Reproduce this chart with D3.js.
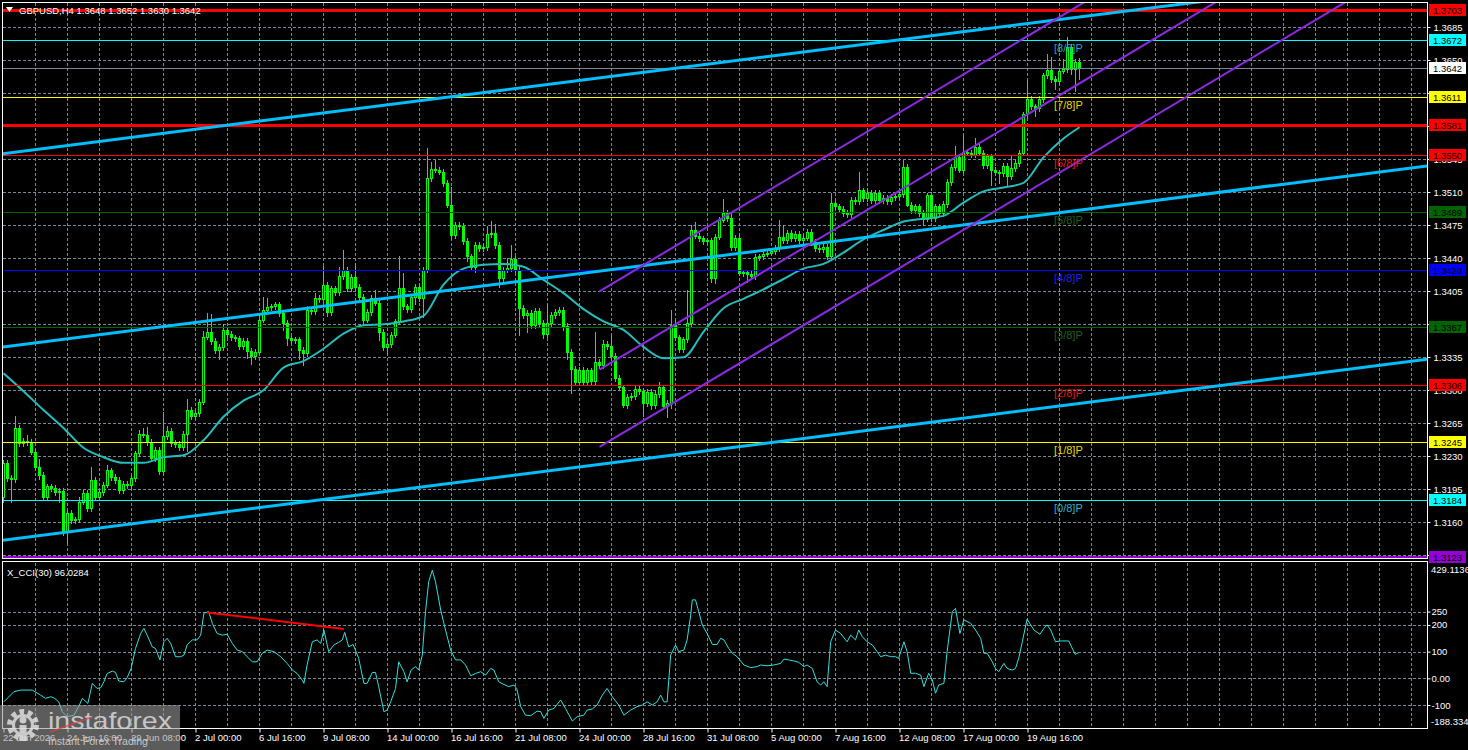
<!DOCTYPE html>
<html>
<head>
<meta charset="utf-8">
<script src="https://cdn.jsdelivr.net/npm/d3@7"></script>
<style>
html, body { margin: 0; padding: 0; background: #000; overflow: hidden; }
svg { display: block; }
text { font-family: "Liberation Sans", Arial, sans-serif; }
</style>
</head>
<body>
<div id="chart"></div>
<script>
// GBPUSD H4 closes, one per bar (bar 0 = 22 Jun 00:00)
const closes = [
  1.3223, 1.3207, 1.3206, 1.3260, 1.3244, 1.3246, 1.3245, 1.3235, 1.3219, 1.3210,
  1.3187, 1.3198, 1.3196, 1.3192, 1.3193, 1.3150, 1.3170, 1.3162, 1.3163, 1.3182,
  1.3191, 1.3175, 1.3205, 1.3187, 1.3192, 1.3200, 1.3215, 1.3208, 1.3205, 1.3194,
  1.3201, 1.3199, 1.3207, 1.3233, 1.3254, 1.3253, 1.3245, 1.3228, 1.3237, 1.3214,
  1.3251, 1.3257, 1.3244, 1.3243, 1.3240, 1.3254, 1.3279, 1.3273, 1.3276, 1.3288,
  1.3357, 1.3362, 1.3352, 1.3343, 1.3346, 1.3364, 1.3360, 1.3356, 1.3355, 1.3347,
  1.3352, 1.3342, 1.3336, 1.3341, 1.3375, 1.3385, 1.3388, 1.3389, 1.3391, 1.3382,
  1.3371, 1.3355, 1.3353, 1.3354, 1.3343, 1.3339, 1.3385, 1.3384, 1.3398, 1.3397,
  1.3412, 1.3383, 1.3408, 1.3404, 1.3421, 1.3428, 1.3408, 1.3420, 1.3410, 1.3399,
  1.3375, 1.3383, 1.3398, 1.3393, 1.3362, 1.3346, 1.3349, 1.3359, 1.3373, 1.3408,
  1.3389, 1.3386, 1.3399, 1.3410, 1.3398, 1.3428, 1.3525, 1.3535, 1.3534, 1.3532,
  1.3520, 1.3497, 1.3465, 1.3475, 1.3474, 1.3458, 1.3442, 1.3431, 1.3454, 1.3451,
  1.3452, 1.3466, 1.3467, 1.3454, 1.3419, 1.3428, 1.3430, 1.3439, 1.3428, 1.3387,
  1.3380, 1.3382, 1.3369, 1.3384, 1.3371, 1.3360, 1.3371, 1.3380, 1.3383, 1.3385,
  1.3368, 1.3341, 1.3323, 1.3309, 1.3322, 1.3309, 1.3321, 1.3310, 1.3330, 1.3327,
  1.3349, 1.3347, 1.3336, 1.3313, 1.3303, 1.3284, 1.3293, 1.3294, 1.3301, 1.3299,
  1.3286, 1.3298, 1.3284, 1.3296, 1.3303, 1.3283, 1.3287, 1.3369, 1.3356, 1.3344,
  1.3354, 1.3371, 1.3470, 1.3464, 1.3461, 1.3458, 1.3459, 1.3419, 1.3463, 1.3481,
  1.3488, 1.3483, 1.3452, 1.3462, 1.3424, 1.3425, 1.3423, 1.3421, 1.3441, 1.3442,
  1.3445, 1.3446, 1.3448, 1.3451, 1.3463, 1.3459, 1.3467, 1.3461, 1.3466, 1.3459,
  1.3462, 1.3468, 1.3457, 1.3451, 1.3450, 1.3452, 1.3442, 1.3499, 1.3495, 1.3492,
  1.3488, 1.3487, 1.3502, 1.3501, 1.3512, 1.3504, 1.3509, 1.3502, 1.3509, 1.3502,
  1.3504, 1.3501, 1.3505, 1.3506, 1.3508, 1.3537, 1.3497, 1.3491, 1.3495, 1.3488,
  1.3482, 1.3507, 1.3483, 1.3495, 1.3488, 1.3498, 1.3521, 1.3537, 1.3547, 1.3534,
  1.3553, 1.3552, 1.3550, 1.3558, 1.3552, 1.3539, 1.3548, 1.3534, 1.3531, 1.3530,
  1.3538, 1.3527, 1.3536, 1.3541, 1.3552, 1.3593, 1.3609, 1.3601, 1.3599, 1.3609,
  1.3634, 1.3640, 1.3630, 1.3628, 1.3639, 1.3641, 1.3664, 1.3641, 1.3648, 1.3642
]
const firstOpen = 1.3187
// wick lengths in pips above the body and below it
const wickUp = [
  3,3,3,13,3,3,7,3,3,8,   3,3,3,3,3,3,3,3,3,5,   3,3,14,3,3,3,6,3,3,3,
  3,3,3,3,4,6,8,3,3,3,    26,5,3,3,3,3,12,3,3,3, 6,20,19,3,3,6,3,3,3,3,
  3,3,3,3,5,14,10,3,3,3,  3,3,3,3,3,3,4,3,5,3,   20,3,3,3,10,21,3,3,15,3,
  3,3,3,8,3,3,3,3,3,34,   16,3,3,3,3,3,32,7,9,3, 3,3,19,3,3,3,3,3,3,3,
  3,8,12,9,3,3,10,15,3,3, 3,3,3,3,3,3,20,3,3,3,  3,3,3,3,3,3,3,3,32,3,
  4,3,12,3,3,3,3,3,3,3,   3,3,3,3,6,3,3,16,5,3,  3,35,5,8,3,3,3,3,3,3,
  15,3,5,3,3,3,3,3,3,3,   3,3,3,3,18,12,3,3,3,3, 3,3,3,3,3,3,3,10,3,3,
  3,3,3,3,19,3,6,3,3,3,   3,3,3,3,3,7,3,3,3,3,   3,2,3,3,3,3,3,3,12,3,
  18,3,3,10,3,3,3,3,3,3,  3,3,12,3,3,2,20,3,3,3, 3,17,13,3,3,10,11,3,3,4
]
const wickDown = [
  5,3,25,3,3,3,3,3,3,4,   3,3,3,3,10,3,12,3,3,3, 3,3,3,3,3,3,3,3,3,3,
  3,3,3,3,3,3,3,3,3,3,    3,3,3,3,3,3,18,3,3,3,  3,3,3,3,10,3,3,3,3,3,
  3,8,8,3,3,3,3,3,3,3,    7,7,3,3,10,12,3,3,3,3, 3,4,3,3,3,3,3,3,3,3,
  4,3,3,3,9,3,8,3,3,3,    3,3,3,8,3,20,3,3,3,3,  3,3,5,3,3,3,5,3,6,3,
  3,3,3,3,10,3,3,3,3,28,  3,18,3,3,3,5,3,3,3,3,  4,8,26,3,3,3,3,3,3,3,
  3,3,3,3,3,2,3,3,3,3,    13,3,4,3,3,3,11,6,3,3, 3,3,3,3,3,3,3,4,5,3,
  3,3,3,3,2,3,8,3,3,3,    3,3,3,3,3,3,3,3,3,3,   3,3,3,3,3,3,3,3,3,3,
  3,3,3,3,3,3,3,3,3,3,    3,3,3,3,3,3,2,3,3,3,   7,3,3,3,3,3,4,3,3,3,
  3,3,3,3,3,3,3,16,3,10,  3,9,3,3,3,3,3,3,8,3,   3,3,3,8,3,3,3,6,24,12
]

// moving average read every five bars
const maBars = [0,5,10,15,20,25,30,35,40,45,50,55,60,65,70,75,80,85,90,95,100,105,110,115,120,125,130,
  135,140,145,150,155,160,165,170,175,180,185,190,195,200,205,210,215,220,225,230,235,240,245,250,255,260,265,269]
const maValues = [1.3318,1.3299,1.3279,1.3260,1.3239,1.3229,1.3223,1.3223,1.3229,1.3231,1.3247,1.3272,1.3289,
  1.3300,1.3324,1.3331,1.3344,1.3360,1.3369,1.3370,1.3373,1.3379,1.3412,1.3429,1.3433,1.3434,1.3431,1.3417,
  1.3403,1.3386,1.3373,1.3364,1.3346,1.3334,1.3335,1.3362,1.3387,1.3397,1.3407,1.3418,1.3429,1.3434,1.3446,
  1.3460,1.3470,1.3479,1.3482,1.3485,1.3499,1.3511,1.3515,1.3520,1.3547,1.3567,1.3579]

// X_CCI(30)
const cciBars = [0.1,2.6,4.3,7.2,9.3,10.5,11.8,12.6,13.8,14.7,15.9,17.6,18.8,19.7,21.1,22.2,23.4,24.3,25.1,25.9,
  27.2,28,28.8,30.1,30.9,31.9,33,34.3,35.1,35.9,37.2,38,39.1,40.1,40.9,41.8,43,44.3,45.1,45.9,47.2,48.4,49.3,
  50.1,51.3,52.2,53.4,54.7,55.9,57.2,58.4,59.7,60.9,62.2,63.4,64.7,65.9,67.6,69.3,70.9,72.2,73.4,74.7,75.1,
  75.9,77.2,78.4,79.3,80.1,81.3,82.6,83.8,84.7,85.3,86.3,87.4,88.8,90.1,90.9,92.2,93,93.8,95.1,95.9,96.8,98,
  98.8,100.1,100.9,101.9,103,103.8,104.7,105.5,106.3,107.2,108,109.3,110.5,111.8,113,114.3,115.5,116.8,118,
  119.3,120.5,121.8,122.6,123.8,125.1,126.3,127.6,128.3,129.3,130.5,131.8,133.4,134.3,135.1,136.3,137.6,139.3,
  140.5,142.2,143.4,145.1,145.9,147.2,148.4,149.7,150.9,152.2,153.8,155.1,156.8,158.4,159.7,160.9,162.2,163.4,
  164.3,165.1,165.9,166.8,168,168.8,170.1,170.9,171.8,172.2,173,173.8,174.7,175.9,177.2,178.4,179.3,180.1,
  181.3,182.2,183.4,185.1,186.8,188.4,189.3,190.9,192.6,194.3,195.1,196.3,197.6,198.8,200.1,200.9,202.2,203.4,
  204.3,205.1,205.9,206.8,208,209.3,210.9,211.8,213,213.8,214.7,215.9,217.2,218.4,219.3,220.5,221.8,223,223.8,
  225.1,225.9,226.8,228,229.3,230.1,231.3,232.2,233,233.8,235.1,235.9,237.2,238,239.1,240.1,241.8,243,244.3,
  245.1,245.9,247.2,248,248.8,250.1,250.9,252.2,253,253.8,254.7,255.9,256.8,257.6,259.1,260.1,260.9,261.8,
  263,264.3,266.3,267.9,268.8]
const cciValues = [-88,-50,-44,-44,-63,-75,-69,-73,-88,-125,-144,-138,-106,-75,-94,-19,-38,-35,-13,18,
  27,22,-10,-13,2,37,112,168,187,162,118,112,69,137,150,131,81,81,87,125,144,144,162,
  244,250,206,168,162,165,131,106,100,81,62,62,94,106,100,81,56,31,18,-7,-19,
  50,137,144,131,181,100,125,135,144,172,118,127,75,-19,-19,22,22,-31,-125,-119,-88,-38,
  62,25,-13,31,44,31,87,250,362,405,362,256,181,106,69,69,50,10,18,
  25,12,37,31,-13,-23,-31,-25,-38,-106,-138,-140,-123,-125,-150,-119,-113,-81,
  -113,-160,-144,-138,-119,-115,-100,-63,-38,-69,-100,-138,-119,-106,-100,-88,-100,-88,
  -63,-88,-88,87,125,100,106,144,237,294,294,250,200,168,127,127,150,144,
  112,94,81,50,40,44,50,47,50,56,72,69,65,60,44,50,37,-13,
  -25,-13,-31,137,181,168,137,162,144,181,156,137,125,100,81,87,81,81,75,
  137,100,19,19,12,-31,19,-6,-56,-25,-19,100,250,262,168,219,206,181,150,
  94,94,62,37,25,56,37,31,37,75,137,222,200,181,165,187,200,181,
  137,140,140,90,96]
const cciRange = [-188.334, 429.1136]
const cciTicks = [250, 200, 100, 0, -100]
const cciTickLabels = ["250", "200", "100", "0.00", "-100"]
const cciEdgeLabels = ["429.1136", "-188.334"]
const cciTrend = [50.9, 247, 85.1, 185]

const timeBars = [0,16,32,48,64,80,96,112,128,144,160,176,192,208,224,240,256]
const timeLabels = ["22 Jun 2026","24 Jun 16:00","29 Jun 08:00","2 Jul 00:00","6 Jul 16:00","9 Jul 08:00",
  "14 Jul 00:00","16 Jul 16:00","21 Jul 08:00","24 Jul 00:00","28 Jul 16:00","31 Jul 08:00","5 Aug 00:00",
  "7 Aug 16:00","12 Aug 08:00","17 Aug 00:00","19 Aug 16:00"]

const priceTicks = [1.3685,1.3650,1.3615,1.3580,1.3545,1.3510,1.3475,1.3440,1.3405,1.3370,1.3335,1.3300,
  1.3265,1.3230,1.3195,1.3160,1.3125]
const levelPrices = [1.3703,1.3672,1.3642,1.3611,1.3581,1.3550,1.3489,1.3428,1.3367,1.3306,1.3245,1.3184,1.3123]
const murreyPrices = [1.3672,1.3611,1.3550,1.3489,1.3428,1.3367,1.3306,1.3245,1.3184]
const murreyNames = ["[8/8]P","[7/8]P","[6/8]P","[5/8]P","[4/8]P","[3/8]P","[2/8]P","[1/8]P","[0/8]P"]

// trend lines as [bar, price, bar, price]
const blueTrends = [[0,1.3551,260,1.3691],[0,1.3346,356,1.3538],[0,1.3141,356,1.3333]]
const purpleChannel = [[149,1.3405,270,1.3711],[149,1.3322,270,1.3628],[149,1.3240,270,1.3546]]

const symbol = "GBPUSD,H4"
const lastOHLC = [1.3648, 1.3652, 1.3630, 1.3642]
const cciName = "X_CCI(30)"
const cciLast = 96.0284

// ---- styles (not data) ----
const levelStyles = [
  {c:"#ff0000", w:3, box:"#ff0000"}, {c:"#00ffff", w:1, box:"#00ffff"}, {c:"#778899", w:1, box:"#ffffff"},
  {c:"#ffff00", w:1, box:"#ffff00"}, {c:"#ff0000", w:3, box:"#ff0000"}, {c:"#ff0000", w:1, box:"#ff0000"},
  {c:"#006400", w:1, box:"#006400"}, {c:"#0000ff", w:1, box:"#0000ff"}, {c:"#006400", w:1, box:"#006400"},
  {c:"#ff0000", w:1, box:"#ff0000"}, {c:"#ffff00", w:1, box:"#ffff00"}, {c:"#00ffff", w:1, box:"#00ffff"},
  {c:"#9400d3", w:2, box:"#9400d3"}
]
const murreyColors = ["#2b9fd0","#e6d800","#e01818","#1f5f1f","#2020f0","#1f5f1f","#e01818","#e6d800","#2bb0d0"]
const gridColor = "#778899"
const up = "#00ff00"

const W = 1468, H = 750
const left = 2, right = 1427
const mainTop = 2, mainBottom = 558
const cciTop = 562, cciBottom = 729

let svg = d3.select("#chart").append("svg")
  .attr("width", W).attr("height", H)
  .style("background", "#000")

// 4 px per bar
let x = d3.scaleLinear().domain([0, 100]).range([3.5, 403.5])
let y = d3.scaleLinear().domain([1.31221, 1.37118]).range([mainBottom, mainTop])
let yc = d3.scaleLinear().domain(cciRange).range([728.6, 563.8])
const crisp = v => Math.round(v) + 0.5

let defs = svg.append("defs")
defs.append("clipPath").attr("id", "clipMain").append("rect")
  .attr("x", left + 1).attr("y", mainTop + 1).attr("width", right - left - 1).attr("height", mainBottom - mainTop - 1)
defs.append("clipPath").attr("id", "clipCci").append("rect")
  .attr("x", left + 1).attr("y", cciTop + 1).attr("width", right - left - 1).attr("height", cciBottom - cciTop - 1)

// grid
let grid = svg.append("g").attr("stroke", gridColor).attr("stroke-dasharray", "3,2").attr("stroke-width", 1)
let vBars = d3.range(8, 360, 8).filter(b => x(b) < right - 1)
vBars.forEach(b => {
  grid.append("line").attr("x1", x(b)).attr("x2", x(b)).attr("y1", mainTop + 1).attr("y2", mainBottom)
  grid.append("line").attr("x1", x(b)).attr("x2", x(b)).attr("y1", cciTop + 1).attr("y2", cciBottom)
})
priceTicks.forEach(p => {
  grid.append("line").attr("x1", left + 1).attr("x2", right).attr("y1", crisp(y(p))).attr("y2", crisp(y(p)))
})
cciTicks.forEach(v => {
  grid.append("line").attr("x1", left + 1).attr("x2", right).attr("y1", crisp(yc(v))).attr("y2", crisp(yc(v)))
})

// candles
let candles = closes.map((c, i) => {
  const o = i === 0 ? firstOpen : closes[i - 1]
  return {i, o, c, h: Math.max(o, c) + wickUp[i] / 1e4, l: Math.min(o, c) - wickDown[i] / 1e4}
})
let main = svg.append("g").attr("clip-path", "url(#clipMain)")
let cg = main.append("g")
cg.selectAll("line.wick").data(candles).join("line")
  .attr("class", "wick")
  .attr("x1", d => x(d.i)).attr("x2", d => x(d.i))
  .attr("y1", d => Math.round(y(d.h))).attr("y2", d => Math.round(y(d.l)) + 1)
  .attr("stroke", up).attr("stroke-width", 1)
candles.forEach(d => {
  const top = crisp(y(Math.max(d.o, d.c))), bot = crisp(y(Math.min(d.o, d.c)))
  if (bot - top < 1) {
    cg.append("line").attr("x1", x(d.i) - 1.5).attr("x2", x(d.i) + 1.5)
      .attr("y1", top).attr("y2", top).attr("stroke", up)
  } else {
    cg.append("rect").attr("x", x(d.i) - 1).attr("y", top).attr("width", 2).attr("height", bot - top)
      .attr("fill", d.c >= d.o ? "#000" : up).attr("stroke", up).attr("stroke-width", 1)
  }
})

// moving average
let maLine = d3.line().x((d, i) => x(maBars[i])).y(d => y(d)).curve(d3.curveMonotoneX)
main.append("path").datum(maValues).attr("d", maLine)
  .attr("fill", "none").attr("stroke", "#26bcbc").attr("stroke-width", 2)

// horizontal levels
levelPrices.forEach((p, k) => {
  const s = levelStyles[k]
  const yy = s.w % 2 ? crisp(y(p)) : Math.round(y(p))
  main.append("line").attr("x1", left).attr("x2", right).attr("y1", yy).attr("y2", yy)
    .attr("stroke", s.c).attr("stroke-width", s.w)
})

// trend lines, extended to the pane edges
const extend = (t, b0, b1) => {
  const slope = (t[3] - t[1]) / (t[2] - t[0])
  return [[x(b0), y(t[1] + slope * (b0 - t[0]))], [x(b1), y(t[1] + slope * (b1 - t[0]))]]
}
blueTrends.forEach(t => {
  main.append("path").attr("d", d3.line()(extend(t, -2, 360)))
    .attr("stroke", "#00bfff").attr("stroke-width", 3).attr("fill", "none")
})
purpleChannel.forEach(t => {
  main.append("path").attr("d", d3.line()(extend(t, t[0], 360)))
    .attr("stroke", "#8a2be2").attr("stroke-width", 2).attr("fill", "none")
})

// Murrey labels
murreyPrices.forEach((p, k) => {
  svg.append("text").attr("x", 1054).attr("y", y(p) + 12)
    .attr("fill", murreyColors[k]).style("font-size", "11px").text(murreyNames[k])
})

// CCI pane
let cci = svg.append("g").attr("clip-path", "url(#clipCci)")
let cciLine = d3.line().x((d, i) => x(cciBars[i])).y(d => yc(d))
cci.append("path").datum(cciValues).attr("d", cciLine)
  .attr("fill", "none").attr("stroke", "#33e0e0").attr("stroke-width", 1)
cci.append("line")
  .attr("x1", x(cciTrend[0])).attr("y1", yc(cciTrend[1]))
  .attr("x2", x(cciTrend[2])).attr("y2", yc(cciTrend[3]))
  .attr("stroke", "#ff0000").attr("stroke-width", 2)

// pane borders
svg.append("rect").attr("x", left + 0.5).attr("y", mainTop + 0.5)
  .attr("width", right - left).attr("height", mainBottom - mainTop)
  .attr("fill", "none").attr("stroke", "#fff")
svg.append("rect").attr("x", left + 0.5).attr("y", cciTop - 0.5)
  .attr("width", right - left).attr("height", cciBottom - cciTop)
  .attr("fill", "none").attr("stroke", "#fff")

// price axis; a tick label that sits fully under a level box is not shown, as in the terminal
const styleAxis = g => {
  g.attr("font-family", null).attr("font-size", null)
  g.selectAll("line").attr("stroke", "#fff")
  g.selectAll("path").attr("stroke", "#fff")
  g.selectAll("text").attr("fill", "#fff").style("font-size", "9.5px")
}
const underBox = p => levelPrices.some(l => Math.abs(y(l) - y(p)) < 4)
svg.append("g").attr("transform", `translate(${right + 0.5},0)`)
  .call(d3.axisRight(y).tickValues(priceTicks)
    .tickFormat(p => underBox(p) ? "" : d3.format(".4f")(p))
    .tickSize(3).tickPadding(3).tickSizeOuter(0))
  .call(styleAxis)
  .call(g => g.select(".domain").remove())
  .call(g => g.selectAll(".tick").attr("transform", d => `translate(0,${crisp(y(d))})`))

// level price boxes
levelPrices.forEach((p, k) => {
  const yy = y(p)
  svg.append("rect").attr("x", 1429).attr("y", Math.round(yy) - 6).attr("width", 37).attr("height", 12)
    .attr("fill", levelStyles[k].box)
  svg.append("text").attr("x", 1433).attr("y", Math.round(yy) + 3.5)
    .attr("fill", "#000").style("font-size", "9.5px").text(d3.format(".4f")(p))
})

// CCI axis
svg.append("g").attr("transform", `translate(${right + 0.5},0)`)
  .call(d3.axisRight(yc).tickValues(cciTicks).tickFormat((d, i) => cciTickLabels[i]).tickSize(3).tickPadding(1).tickSizeOuter(0))
  .call(styleAxis)
  .call(g => g.select(".domain").remove())
svg.append("text").attr("x", 1431).attr("y", 572.5).attr("fill", "#fff").style("font-size", "9.5px").text(cciEdgeLabels[0])
svg.append("text").attr("x", 1431).attr("y", 725).attr("fill", "#fff").style("font-size", "9.5px").text(cciEdgeLabels[1])

// time axis
svg.append("g").attr("transform", `translate(0,${cciBottom - 0.5})`)
  .call(d3.axisBottom(x).tickValues(timeBars).tickFormat((d, i) => timeLabels[i]).tickSize(4).tickPadding(2))
  .call(styleAxis)
  .call(g => g.select(".domain").remove())
  .call(g => g.selectAll("text").attr("text-anchor", "start").attr("x", -1))

// titles
svg.append("path").attr("d", "M6,7 L13,7 L9.5,12 Z").attr("fill", "#fff")
svg.append("text").attr("x", 19).attr("y", 14).attr("fill", "#fff").style("font-size", "9.5px")
  .text(symbol + " " + lastOHLC.map(d3.format(".4f")).join(" "))
svg.append("text").attr("x", 7).attr("y", 576).attr("fill", "#fff").style("font-size", "9.5px")
  .text(cciName + " " + cciLast.toFixed(4))

// watermark
let wm = svg.append("g")
wm.append("rect").attr("x", 0).attr("y", 705).attr("width", 180).attr("height", 45)
  .attr("fill", "#999").attr("opacity", 0.6)
let gear = wm.append("g").attr("opacity", 0.8).attr("fill", "none").attr("stroke", "#e6e6e6")
gear.append("circle").attr("cx", 23).attr("cy", 725).attr("r", 13)
  .attr("stroke-width", 6).attr("stroke-dasharray", "4.6,3.6")
gear.append("circle").attr("cx", 23).attr("cy", 725).attr("r", 9.5).attr("stroke-width", 3)
gear.append("circle").attr("cx", 23).attr("cy", 720).attr("r", 3.5).attr("fill", "#e6e6e6").attr("stroke", "none")
gear.append("rect").attr("x", 19.5).attr("y", 725).attr("width", 7).attr("height", 16)
  .attr("fill", "#e6e6e6").attr("stroke", "none")
wm.append("text").attr("x", 48).attr("y", 729).attr("fill", "#d8d8d8").attr("opacity", 0.85)
  .attr("textLength", 124).attr("lengthAdjust", "spacingAndGlyphs")
  .style("font-size", "24px").text("instaforex")
wm.append("line").attr("x1", 50).attr("y1", 732).attr("x2", 92).attr("y2", 717)
  .attr("stroke", "#e04040").attr("stroke-width", 1.5).attr("opacity", 0.7)
wm.append("text").attr("x", 48).attr("y", 745).attr("fill", "#d8d8d8").attr("opacity", 0.85)
  .attr("textLength", 100).attr("lengthAdjust", "spacingAndGlyphs")
  .style("font-size", "11px").text("Instant Forex Trading")
</script>
</body>
</html>
